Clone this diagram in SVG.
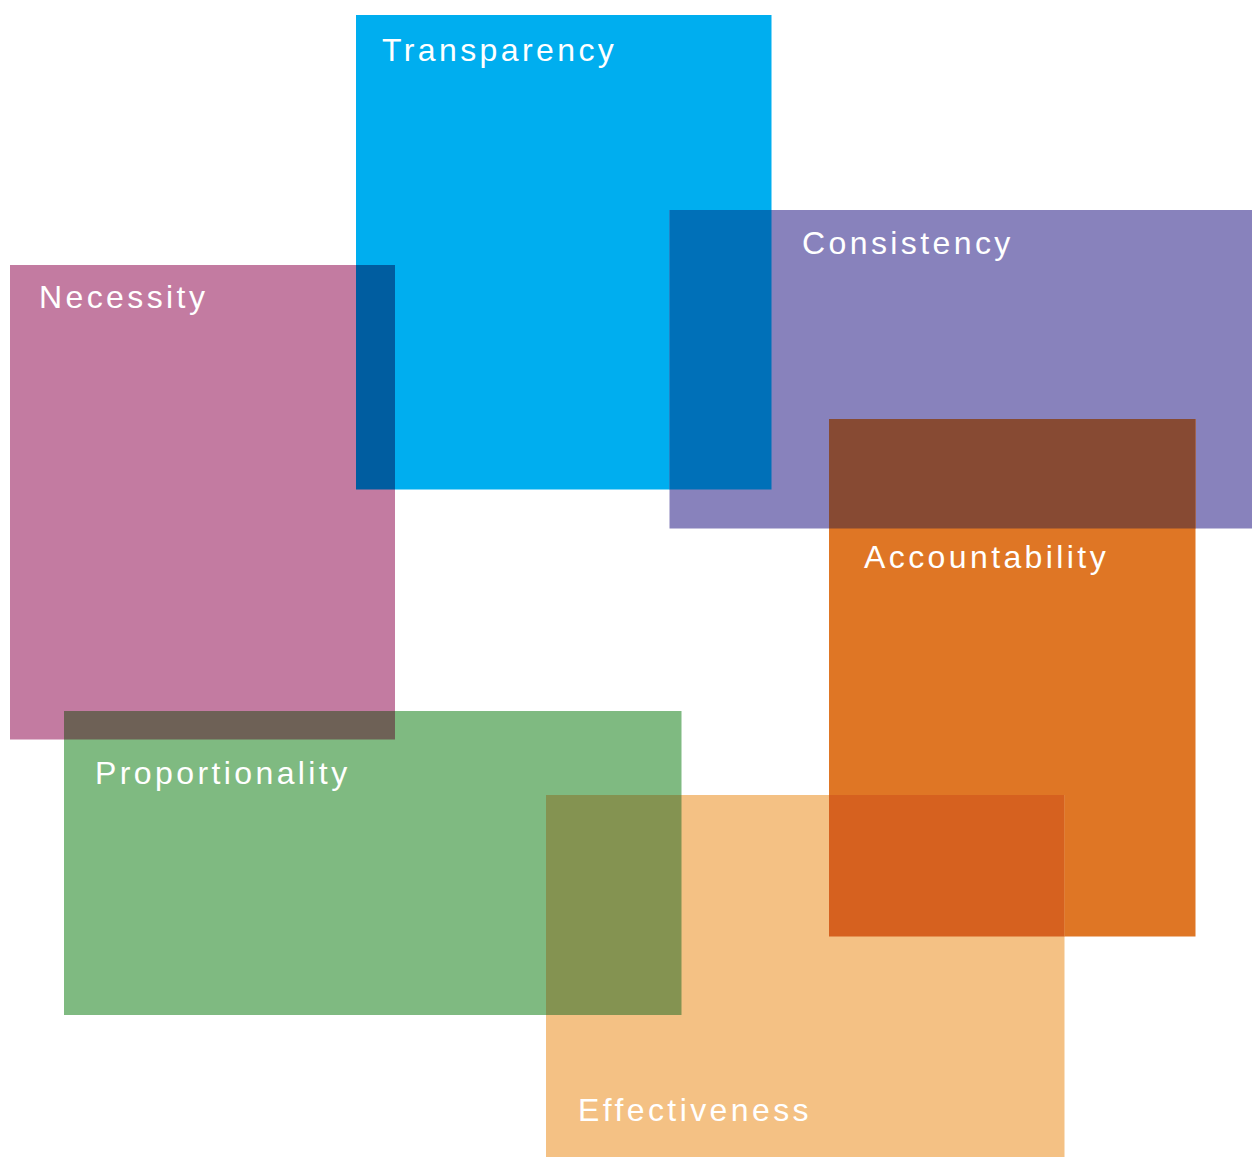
<svg xmlns="http://www.w3.org/2000/svg" width="1252" height="1157" viewBox="0 0 1252 1157">
<style>
.lbl{font-family:"Liberation Sans",Arial,sans-serif;font-size:32px;fill:#ffffff;letter-spacing:3.4px}
</style>
<rect x="0" y="0" width="1252" height="1157" fill="#ffffff"/>
<g id="transparency">
<rect x="356" y="15" width="415.5" height="474.5" fill="#00AEEF"/>
<text class="lbl" x="382" y="61">Transparency</text>
</g>
<g id="necessity">
<rect x="10" y="265" width="385" height="474.5" fill="#C37BA1"/>
<text class="lbl" x="39" y="308">Necessity</text>
</g>
<g id="consistency">
<rect x="669.5" y="210" width="582.5" height="318.5" fill="#8882BC"/>
<text class="lbl" x="802" y="254">Consistency</text>
</g>
<g id="accountability">
<rect x="829" y="419" width="366.5" height="517.5" fill="#DF7625"/>
<text class="lbl" x="864" y="568">Accountability</text>
</g>
<g id="proportionality">
<rect x="64" y="711" width="617.5" height="304" fill="#7FBA81"/>
<text class="lbl" x="95" y="784">Proportionality</text>
</g>
<g id="effectiveness">
<rect x="546" y="795" width="518.5" height="362" fill="#F4C184"/>
<text class="lbl" x="578" y="1121">Effectiveness</text>
</g>
<g id="overlaps">
<rect x="356" y="265" width="39" height="224.5" fill="#005DA0"/>
<rect x="669.5" y="210" width="102" height="279.5" fill="#0070B8"/>
<rect x="829" y="419" width="366.5" height="109.5" fill="#874A33"/>
<rect x="64" y="711" width="331" height="28.5" fill="#6E6156"/>
<rect x="546" y="795" width="135.5" height="220" fill="#849351"/>
<rect x="829" y="795" width="235.5" height="141.5" fill="#D6611F"/>
</g>
<g id="connectors"/>
</svg>
